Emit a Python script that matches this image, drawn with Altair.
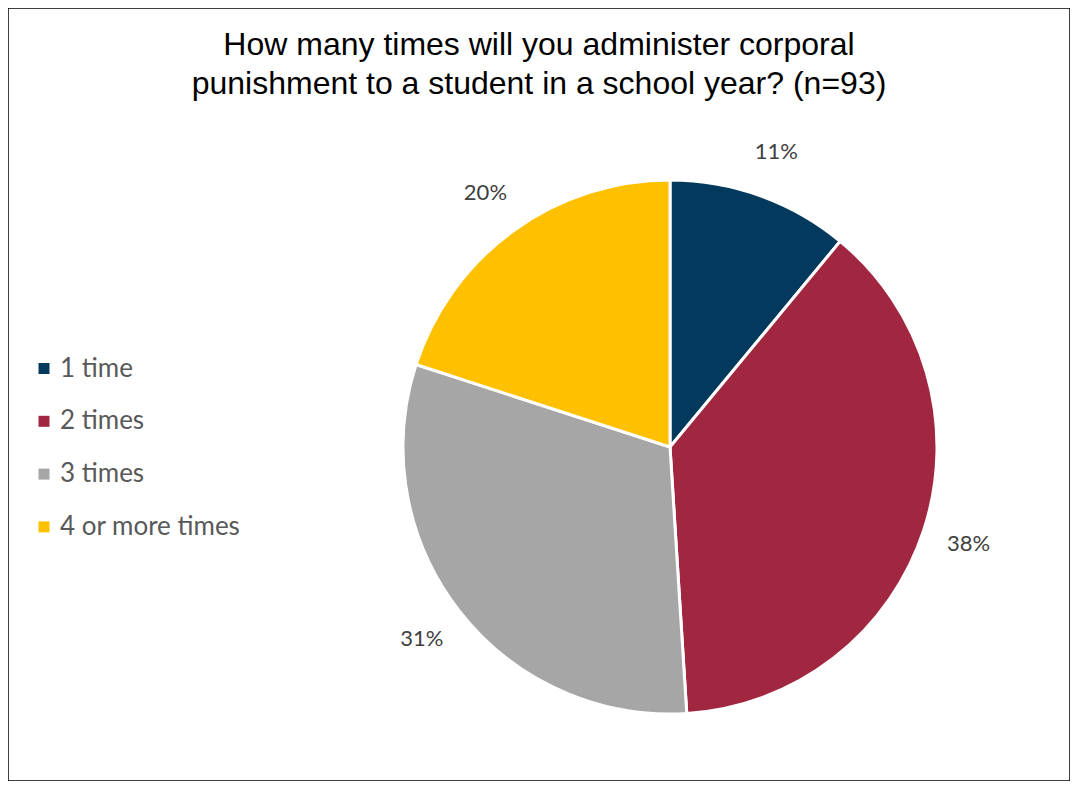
import altair as alt
import pandas as pd

categories = ["1 time", "2 times", "3 times", "4 or more times"]
percents = [11, 38, 31, 20]
labels = ["11%", "38%", "31%", "20%"]
colors = ["#02395C", "#A12741", "#A6A6A6", "#FFC000"]

df = pd.DataFrame({"cat": categories, "pct": percents, "label": labels, "order": [0, 1, 2, 3]})

W, H = 1062, 773
CX, CY = 662, 439

base = alt.Chart(df).encode(
    theta=alt.Theta("pct:Q", stack=True),
    order=alt.Order("order:Q"),
)

pie = base.mark_arc(outerRadius=267, stroke="white", strokeWidth=3).encode(
    x=alt.value(CX),
    y=alt.value(CY),
    color=alt.Color(
        "cat:N",
        scale=alt.Scale(domain=categories, range=colors),
        sort=categories,
        legend=alt.Legend(
            title=None,
            orient="none",
            legendX=23,
            legendY=347.5,
            symbolType="square",
            symbolSize=121,
            symbolStrokeWidth=0,
            labelFontSize=26,
            labelFont="Lato",
            labelColor="#595959",
            labelOffset=3,
            labelLimit=400,
            rowPadding=26.8,
            padding=0,
        ),
    ),
)

text = base.mark_text(radius=314, fontSize=22, font="Lato", color="#404040").encode(
    x=alt.value(CX),
    y=alt.value(CY),
    text="label:N",
)

chart = (
    alt.layer(pie, text)
    .properties(
        width=W,
        height=H,
        padding=0,
        autosize=alt.AutoSizeParams(type="none"),
        title=alt.TitleParams(
            text=["How many times will you administer corporal",
                  "punishment to a student in a school year? (n=93)"],
            font="Liberation Sans",
            fontSize=32,
            fontWeight="normal",
            color="#000000",
            anchor="middle",
            lineHeight=39,
            offset=-93,
        ),
    )
    .configure_view(stroke="#000000", strokeWidth=1.5)
)

chart.save("out.html", embed_options={"renderer": "svg", "actions": False})
